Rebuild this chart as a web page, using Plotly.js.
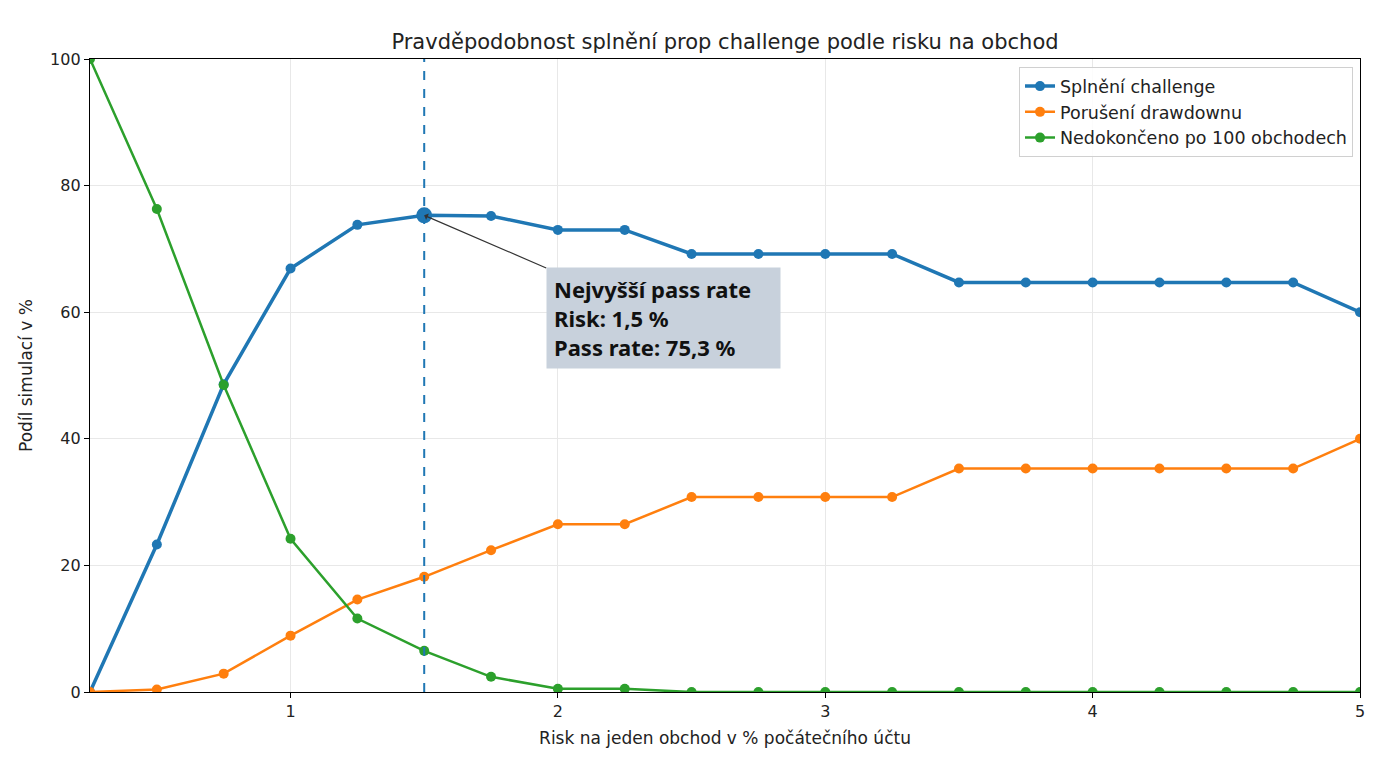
<!DOCTYPE html>
<html>
<head>
<meta charset="utf-8">
<script src="https://cdn.plot.ly/plotly-3.0.1.min.js"></script>
<style>
  html, body { margin: 0; padding: 0; background: #fff; }
  #graf { width: 1385px; height: 779px; }
</style>
</head>
<body>
<div id="graf"></div>
<script>
// risk na obchod v % a výsledky simulací (podíl v %)
const risk = [0.25, 0.5, 0.75, 1, 1.25, 1.5, 1.75, 2, 2.25, 2.5, 2.75, 3, 3.25, 3.5, 3.75, 4, 4.25, 4.5, 4.75, 5];
const splneni = [0, 23.3, 48.6, 66.9, 73.8, 75.3, 75.2, 73.0, 73.0, 69.2, 69.2, 69.2, 69.2, 64.7, 64.7, 64.7, 64.7, 64.7, 64.7, 60.0];
const poruseni = [0, 0.4, 2.9, 8.9, 14.6, 18.2, 22.4, 26.5, 26.5, 30.8, 30.8, 30.8, 30.8, 35.3, 35.3, 35.3, 35.3, 35.3, 35.3, 40.0];
const nedokonceno = [100, 76.3, 48.5, 24.2, 11.6, 6.5, 2.4, 0.5, 0.5, 0, 0, 0, 0, 0, 0, 0, 0, 0, 0, 0];

const xTicks = [1, 2, 3, 4, 5];
const yTicks = [0, 20, 40, 60, 80, 100];

const modra = '#1f77b4', oranzova = '#ff7f0e', zelena = '#2ca02c';
const pismo = 'DejaVu Sans, sans-serif';

// nejlepší bod
let iMax = 0;
splneni.forEach((v, i) => { if (v > splneni[iMax]) iMax = i; });
const bestX = risk[iMax], bestY = splneni[iMax];
const fmt = v => v.toFixed(1).replace('.', ',');

const traces = [
  {
    x: risk, y: splneni, name: 'Splnění challenge', mode: 'lines+markers',
    line: { color: modra, width: 3.5 }, marker: { color: modra, size: 10 }
  },
  {
    x: risk, y: poruseni, name: 'Porušení drawdownu', mode: 'lines+markers',
    line: { color: oranzova, width: 2.5 }, marker: { color: oranzova, size: 10 }
  },
  {
    x: risk, y: nedokonceno, name: 'Nedokončeno po 100 obchodech', mode: 'lines+markers',
    line: { color: zelena, width: 2.5 }, marker: { color: zelena, size: 10 }
  },
  {
    x: [bestX], y: [bestY], mode: 'markers', showlegend: false,
    marker: { color: modra, size: 16 }, hoverinfo: 'skip'
  }
];

const layout = {
  width: 1385, height: 779,
  margin: { l: 90, r: 25, t: 59, b: 87 },
  paper_bgcolor: '#fff', plot_bgcolor: '#fff',
  font: { family: pismo, size: 16, color: '#222' },
  title: {
    text: 'Pravděpodobnost splnění prop challenge podle risku na obchod',
    font: { family: pismo, size: 21, color: '#222' },
    x: 0.5, xref: 'paper', y: 0.946, yanchor: 'middle'
  },
  xaxis: {
    range: [0.25, 5], tickvals: xTicks, ticktext: xTicks.map(String),
    showgrid: true, gridcolor: '#e8e8e8', gridwidth: 1, zeroline: false,
    showline: true, mirror: true, linecolor: '#000', linewidth: 1.2,
    ticks: 'outside', ticklen: 5, tickcolor: '#000',
    tickfont: { family: pismo, size: 16, color: '#222' },
    title: { text: 'Risk na jeden obchod v % počátečního účtu', font: { family: pismo, size: 17, color: '#222' }, standoff: 11 }
  },
  yaxis: {
    range: [0, 100], tickvals: yTicks, ticktext: yTicks.map(String),
    showgrid: true, gridcolor: '#e8e8e8', gridwidth: 1, zeroline: false,
    showline: true, mirror: true, linecolor: '#000', linewidth: 1.2,
    ticks: 'outside', ticklen: 5, tickcolor: '#000',
    tickfont: { family: pismo, size: 16, color: '#222' },
    title: { text: 'Podíl simulací v %', font: { family: pismo, size: 17, color: '#222' }, standoff: 13 }
  },
  legend: {
    x: 0.9945, y: 0.987, xanchor: 'right', yanchor: 'top',
    bgcolor: 'rgba(255,255,255,0.85)', bordercolor: '#d0d0d0', borderwidth: 1,
    font: { family: pismo, size: 17.5, color: '#222' }
  },
  shapes: [{
    type: 'line', xref: 'x', yref: 'paper',
    x0: bestX, x1: bestX, y0: 0, y1: 1,
    line: { color: modra, width: 2, dash: 'dash' }
  }],
  annotations: [{
    x: bestX, y: bestY, xref: 'x', yref: 'y',
    text: '<b>Nejvyšší pass rate<br>Risk: ' + fmt(bestX) + ' %<br>Pass rate: ' + fmt(bestY) + ' %</b>',
    showarrow: true, arrowhead: 1, arrowsize: 1, arrowwidth: 1.2, arrowcolor: '#333',
    ax: 239, ay: 103,
    align: 'left', width: 219, height: 86,
    bgcolor: '#c8d1dc', borderpad: 7,
    font: { family: 'Noto Sans, sans-serif', size: 22, color: '#111' }
  }]
};

Plotly.newPlot('graf', traces, layout, { displayModeBar: false, staticPlot: true });
</script>
</body>
</html>
